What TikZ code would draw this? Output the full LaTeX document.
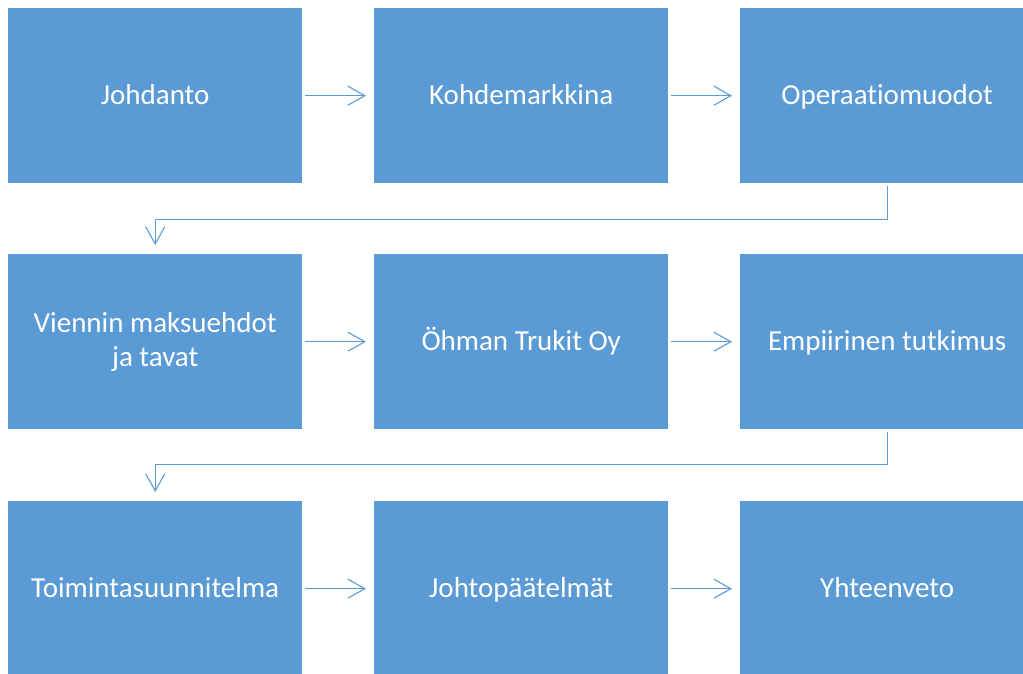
\documentclass[tikz,border=0pt]{standalone}
\usepackage{fontspec}
\setmainfont{Carlito}[Ligatures=NoCommon]
\usetikzlibrary{arrows.meta}

\definecolor{boxblue}{HTML}{5B9BD5}

\tikzset{
  stage/.style={fill=boxblue, draw=none, anchor=north west,
    minimum width=294pt, minimum height=175pt, inner sep=0pt,
    text=white, align=center, text height=21pt, text depth=4pt,
    font=\fontsize{29}{34}\selectfont},
  flow/.style={draw=boxblue, line width=1.1pt,
    -{Straight Barb[length=17pt, width=19pt, line width=1.1pt]}},
}

\begin{document}
\begin{tikzpicture}[x=1pt, y=-1pt]
    \useasboundingbox (0,0) rectangle (1023,673);
    \clip (0,0) rectangle (1023,673);

    % first row
    \node[stage] (johdanto) at (8,8) {Johdanto};
    \node[stage] (kohde) at (374,8) {Kohdemarkkina};
    \node[stage] (muodot) at (740,8) {Operaatiomuodot};

    % second row
    \node[stage, text height=, text depth=] (vienti) at (8,254)
        {Viennin maksuehdot\\ja tavat};
    \node[stage] (ohman) at (374,254) {Öhman Trukit Oy};
    \node[stage] (empiria) at (740,254) {Empiirinen tutkimus};

    % third row
    \node[stage] (suunnitelma) at (8,501) {Toimintasuunnitelma};
    \node[stage] (paatelmat) at (374,501) {Johtopäätelmät};
    \node[stage] (yhteenveto) at (740,501) {Yhteenveto};

    \draw[flow, shorten <=3pt, shorten >=8pt] (johdanto) -- (kohde);
    \draw[flow, shorten <=3pt, shorten >=8pt] (kohde) -- (muodot);
    \draw[flow, shorten <=3pt, shorten >=9pt]
        (muodot.south) -- ++(0,36) -| (vienti.north);

    \draw[flow, shorten <=3pt, shorten >=8pt] (vienti) -- (ohman);
    \draw[flow, shorten <=3pt, shorten >=8pt] (ohman) -- (empiria);
    \draw[flow, shorten <=3pt, shorten >=9pt]
        (empiria.south) -- ++(0,35) -| (suunnitelma.north);

    \draw[flow, shorten <=3pt, shorten >=8pt] (suunnitelma) -- (paatelmat);
    \draw[flow, shorten <=3pt, shorten >=8pt] (paatelmat) -- (yhteenveto);
\end{tikzpicture}
\end{document}
